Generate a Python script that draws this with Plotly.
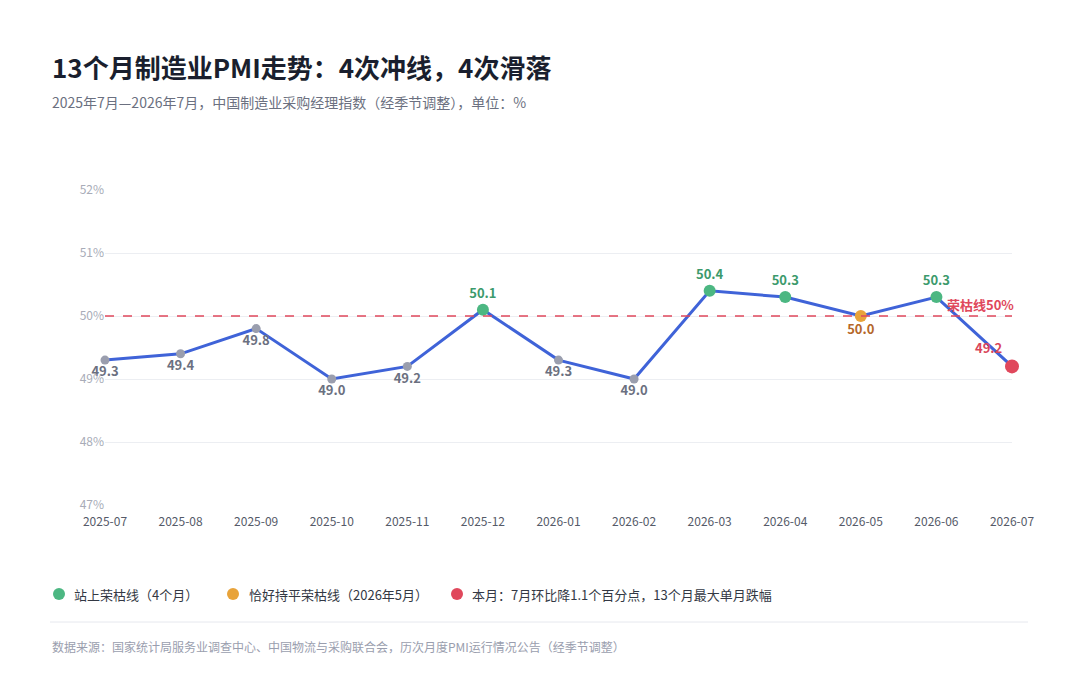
import plotly.graph_objects as go

months = ["2025-07","2025-08","2025-09","2025-10","2025-11","2025-12","2026-01",
          "2026-02","2026-03","2026-04","2026-05","2026-06","2026-07"]
pmi = [49.3,49.4,49.8,49.0,49.2,50.1,49.3,49.0,50.4,50.3,50.0,50.3,49.2]

GRAY, GREEN, ORANGE, RED, BLUE = "#9a9eae", "#4cb782", "#e8a33a", "#e0485c", "#3f63d8"
def col(i, v):
    if i == len(pmi) - 1: return RED
    if v > 50: return GREEN
    if v == 50: return ORANGE
    return GRAY
def tcol(i, v):
    if i == len(pmi) - 1: return "#d9455a"
    if v > 50: return "#3c9a6c"
    if v == 50: return "#b5682a"
    return "#6b7080"
def pos(i, v):
    if i == len(pmi) - 1: return "top left"
    return "top center" if v > 50 else "bottom center"

colors = [col(i, v) for i, v in enumerate(pmi)]
sizes = [9 if c == GRAY else 12 for c in colors]
sizes[-1] = 14

# page has an 8px body margin; compensate
OFF = 8
W, H = 1080, 691
L, R, T, B = 105 - OFF, 68 + OFF, 190 - OFF, 186 + OFF
pw, ph = W - L - R, H - T - B

fig = go.Figure()
fig.add_trace(go.Scatter(x=months, y=pmi, mode="lines+markers+text",
    line=dict(color=BLUE, width=3),
    marker=dict(color=colors, size=sizes, line=dict(width=0), opacity=1),
    text=[f"<b>{v:.1f}</b>" for v in pmi],
    textposition=[pos(i, v) for i, v in enumerate(pmi)],
    textfont=dict(color=[tcol(i, v) for i, v in enumerate(pmi)], size=13, family="Noto Sans CJK SC"),
    cliponaxis=False, hoverinfo="skip", showlegend=False))

fig.add_hline(y=50, line=dict(color="#e0485c", dash="dash", width=1.5))
fig.add_annotation(x=1, xref="paper", y=50, yref="y", text="<b>荣枯线50%</b>", showarrow=False,
    xanchor="right", yanchor="bottom", font=dict(color="#e0485c", size=13), xshift=4)

fig.update_layout(
    width=W, height=H, paper_bgcolor="white", plot_bgcolor="white",
    margin=dict(l=L, r=R, t=T, b=B),
    font=dict(family="Noto Sans CJK SC", color="#6b7080"),
    xaxis=dict(type="category", showgrid=False, showline=False, ticks="",
               tickfont=dict(size=12, color="#555a68"), range=[0, 12], ticklabelstandoff=8),
    yaxis=dict(range=[47, 52], dtick=1, ticksuffix="%", gridcolor="#eceef2",
               zeroline=False, tickfont=dict(size=12, color="#a8acb8")),
)

ann = [
    dict(text="<b>13个月制造业PMI走势：4次冲线，4次滑落</b>", x=50, y=66, size=26, color="#1a1f2e"),
    dict(text="2025年7月—2026年7月，中国制造业采购经理指数（经季节调整），单位：%", x=50, y=102, size=14, color="#6b7080"),
    dict(text="站上荣枯线（4个月）", x=72, y=594, size=13, color="#333844"),
    dict(text="恰好持平荣枯线（2026年5月）", x=247, y=594, size=13, color="#333844"),
    dict(text="本月：7月环比降1.1个百分点，13个月最大单月跌幅", x=470, y=594, size=13, color="#333844"),
    dict(text="数据来源：国家统计局服务业调查中心、中国物流与采购联合会，历次月度PMI运行情况公告（经季节调整）", x=50, y=646, size=12, color="#9a9eae"),
]
def px(x): return (x - OFF - L) / pw
def py(y): return (H - B - (y - OFF)) / ph
for a in ann:
    fig.add_annotation(text=a["text"], x=px(a["x"]), y=py(a["y"]), xref="paper", yref="paper",
        xanchor="left", yanchor="middle", showarrow=False, font=dict(size=a["size"], color=a["color"]))
for cx, c in [(59, GREEN), (233, ORANGE), (457, RED)]:
    fig.add_shape(type="circle", xref="paper", yref="paper", x0=px(cx-6), x1=px(cx+6),
                  y0=py(594+6), y1=py(594-6), fillcolor=c, line=dict(width=0))
fig.add_shape(type="line", xref="paper", yref="paper", x0=px(50), x1=px(1028),
              y0=py(622), y1=py(622), line=dict(color="#e6e8ee", width=1))

fig.write_html("out.html")
